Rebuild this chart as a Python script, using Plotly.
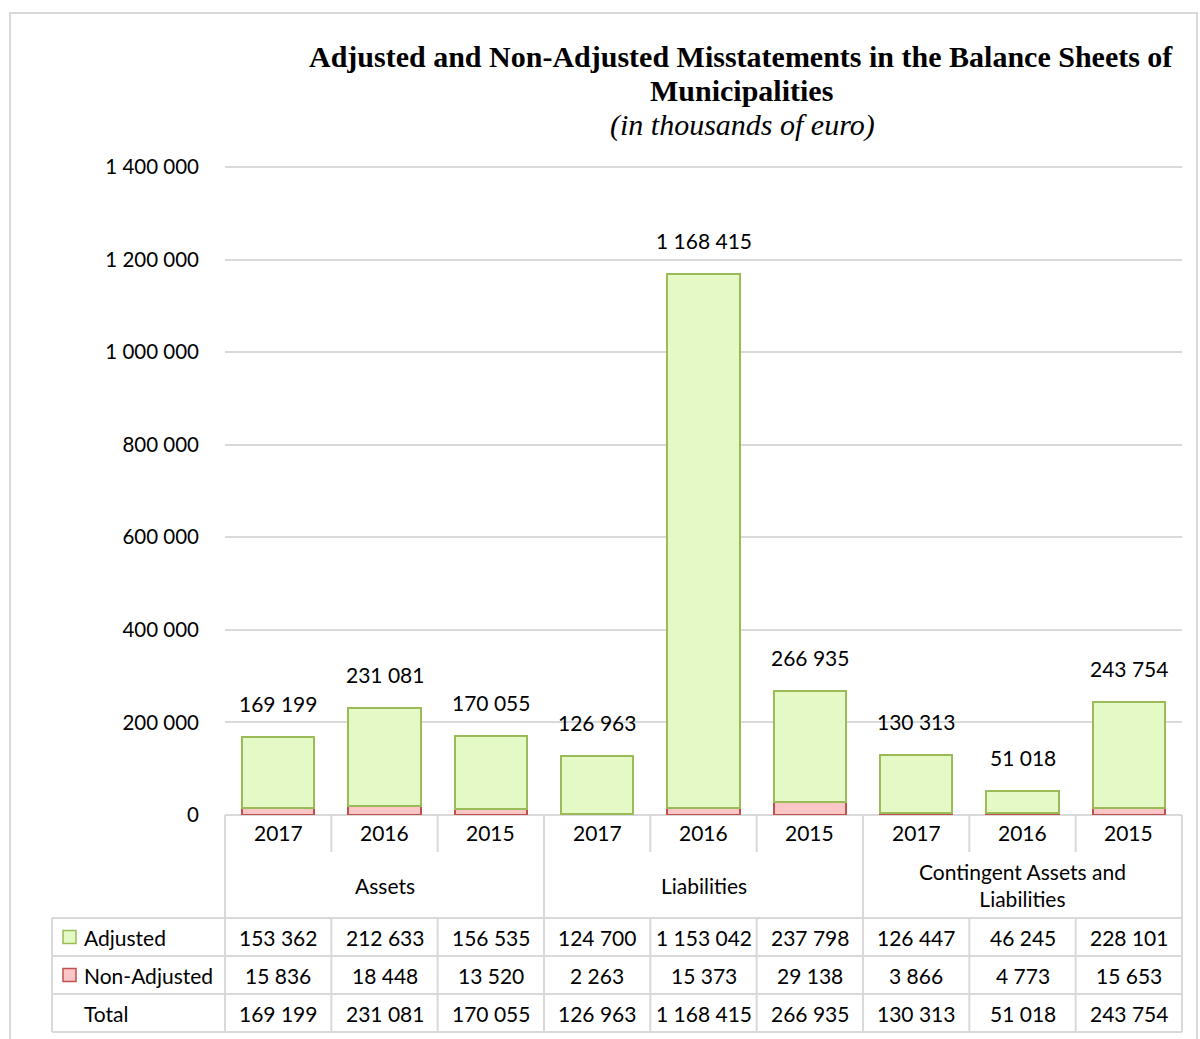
import plotly.graph_objects as go

groups = ["Assets", "Liabilities", "Contingent Assets and<br>Liabilities"]
years = ["2017", "2016", "2015"]
adjusted = [153362, 212633, 156535, 124700, 1153042, 237798, 126447, 46245, 228101]
non_adjusted = [15836, 18448, 13520, 2263, 15373, 29138, 3866, 4773, 15653]
totals = [169199, 231081, 170055, 126963, 1168415, 266935, 130313, 51018, 243754]
y_ticks = [0, 200000, 400000, 600000, 800000, 1000000, 1200000, 1400000]

W, H = 1200, 1039
L, R, T, B = 225, 1182, 167, 815
n = len(totals)
xs = list(range(n))
colw = (R - L) / n

def px(x):
    return (x - L) / (R - L)

def py(y):
    return (B - y) / (B - T)

def fmt(v):
    return f"{v:,}".replace(",", " ")

GREEN_FILL = "#e4f9c6"
GREEN_LINE = "#9bbb59"
PINK_FILL = "#fcc6c6"
PINK_LINE = "#c0504d"
GRID = "#d9d9d9"
FONT = "Lato"
FS = 21

fig = go.Figure()
fig.add_trace(go.Bar(x=xs, y=non_adjusted, name="Non-Adjusted", width=0.68,
                     marker=dict(color=PINK_FILL, line=dict(color=PINK_LINE, width=2))))
fig.add_trace(go.Bar(x=xs, y=adjusted, name="Adjusted", width=0.68,
                     marker=dict(color=GREEN_FILL, line=dict(color=GREEN_LINE, width=2))))

annotations = []
shapes = []

# total labels above bars
for i, t in enumerate(totals):
    annotations.append(dict(x=i, y=t, xref="x", yref="y", text=fmt(t), showarrow=False,
                            yanchor="bottom", yshift=19, font=dict(size=FS, color="#000", family=FONT)))

# title
TF = dict(family="Liberation Serif", size=30, color="#000")
for yc, xc, s in [(57, 741, "<b>Adjusted and Non-Adjusted Misstatements in the Balance Sheets of</b>"),
                  (90, 741, "<b>Municipalities</b>"),
                  (125, 742, "<i>(in thousands of euro)</i>")]:
    annotations.append(dict(x=px(xc), y=py(yc), xref="paper", yref="paper", showarrow=False,
                            xanchor="center", yanchor="middle", text=s, font=TF))

def line(x0, y0, x1, y1, color=GRID, width=2):
    shapes.append(dict(type="line", xref="paper", yref="paper",
                       x0=px(x0), y0=py(y0), x1=px(x1), y1=py(y1),
                       line=dict(color=color, width=width)))

def text(xc, yc, s, xanchor="center", size=FS):
    annotations.append(dict(x=px(xc), y=py(yc), xref="paper", yref="paper", text=s,
                            showarrow=False, xanchor=xanchor, yanchor="middle",
                            font=dict(size=size, color="#000", family=FONT)))

# outer frame
shapes.append(dict(type="rect", xref="paper", yref="paper", x0=px(10), y0=py(13),
                   x1=px(1197), y1=py(1060), line=dict(color=GRID, width=2)))

# top gridline (range edge)
line(L, T, R, T)

# table geometry
y_year_top, y_year_bot = 815, 852
row_edges = [918, 956, 994, 1032]
x_left_tab = 52

for i in range(n + 1):
    xb = L + i * colw
    if i % 3 == 0:
        line(xb, y_year_top, xb, row_edges[-1])
    else:
        line(xb, y_year_top, xb, y_year_bot)
        line(xb, row_edges[0], xb, row_edges[-1])
for i in range(n):
    text(L + (i + 0.5) * colw, 833, years[i % 3])

for g, name in enumerate(groups):
    text(L + (3 * g + 1.5) * colw, 885, name)

for ye in row_edges:
    line(x_left_tab, ye, R, ye)
line(x_left_tab, row_edges[0], x_left_tab, row_edges[-1])

rows = [("Adjusted", adjusted), ("Non-Adjusted", non_adjusted), ("Total", totals)]
for r, (label, vals) in enumerate(rows):
    yc = (row_edges[r] + row_edges[r + 1]) / 2
    text(82, yc, label, xanchor="left")
    for i, v in enumerate(vals):
        text(L + (i + 0.5) * colw, yc, fmt(v))

for r, (fill, lc) in enumerate([(GREEN_FILL, GREEN_LINE), (PINK_FILL, PINK_LINE)]):
    yc = (row_edges[r] + row_edges[r + 1]) / 2
    shapes.append(dict(type="rect", xref="paper", yref="paper",
                       x0=px(63), x1=px(76), y0=py(yc - 6.5), y1=py(yc + 6.5),
                       fillcolor=fill, line=dict(color=lc, width=1.5)))

fig.update_layout(
    width=W, height=H,
    margin=dict(l=L, r=W - R, t=T, b=H - B, pad=0),
    barmode="stack",
    showlegend=False,
    plot_bgcolor="white",
    paper_bgcolor="white",
    separators=", ",
    font=dict(family=FONT, size=FS, color="#000"),
    annotations=annotations,
    shapes=shapes,
)
fig.update_xaxes(range=[-0.5, n - 0.5], showticklabels=False, showgrid=False,
                 zeroline=False, showline=False, ticks="")
fig.update_yaxes(range=[0, 1400000], tickvals=y_ticks, tickformat=",d",
                 showgrid=True, gridcolor=GRID, gridwidth=2, zeroline=True,
                 zerolinecolor=GRID, zerolinewidth=2, showline=False,
                 ticklabelstandoff=25, tickfont=dict(size=20.5, color="#000", family=FONT))

fig.write_html("out.html", config={"displayModeBar": False},
               post_script="document.body.style.margin='0';")
